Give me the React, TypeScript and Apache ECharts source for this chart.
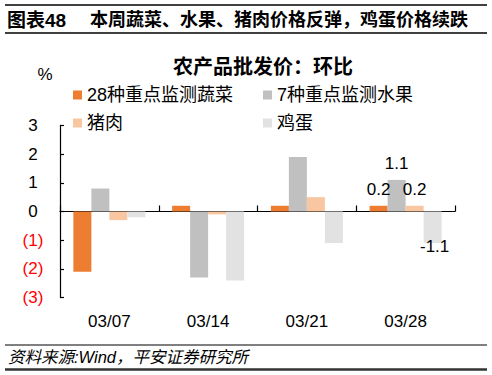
import React, { useEffect, useRef } from "react";
import * as echarts from "echarts";

const categories = ["03/07", "03/14", "03/21", "03/28"];
const seriesNames = ["28种重点监测蔬菜", "7种重点监测水果", "猪肉", "鸡蛋"];
const vegetables = [-2.1, 0.2, 0.2, 0.2];
const fruits = [0.8, -2.3, 1.9, 1.1];
const pork = [-0.3, -0.1, 0.5, 0.2];
const eggs = [-0.2, -2.4, -1.1, -1.1];
const colors = ["#ED7D31", "#C0C0C0", "#F8C6A0", "#E2E2E2"];
const yMin = -3;
const yMax = 3;
const labeledIndex = 3;

const headerLeft = "图表48";
const headerRight = "本周蔬菜、水果、猪肉价格反弹，鸡蛋价格续跌";
const chartTitle = "农产品批发价：环比";
const unitText = "%";
const sourceText = "资料来源:Wind，平安证券研究所";

const FONT = "'Liberation Sans', Arial, 'Noto Sans CJK SC', sans-serif";

function buildData(values: number[]) {
  return values.map((v, i) => {
    if (i !== labeledIndex) return v;
    const neg = v < 0;
    return {
      value: v,
      label: {
        show: true,
        position: neg ? "bottom" : "top",
        distance: neg ? 0 : 8,
        offset: neg ? [2, -5] : [0, 0],
        fontSize: 17,
        fontFamily: FONT,
        color: "#000",
        formatter: (p: any) => Number(p.value).toFixed(1),
      },
    };
  });
}

export default function App() {
  const ref = useRef<HTMLDivElement>(null);
  useEffect(() => {
    if (!ref.current) return;
    const chart = echarts.init(ref.current, null, { renderer: "svg" });
    const allValues = [vegetables, fruits, pork, eggs];
    const option: any = {
      animation: false,
      backgroundColor: "#fff",
      textStyle: { fontFamily: FONT },
      grid: { left: 60, right: 37, top: 125.4, bottom: 77.4, containLabel: false },
      legend: [
        {
          orient: "vertical",
          left: 73,
          top: 86,
          padding: 0,
          itemWidth: 9,
          itemHeight: 9,
          itemGap: 10,
          icon: "rect",
          data: [seriesNames[0], seriesNames[2]],
          textStyle: { fontSize: 18, color: "#000", fontFamily: FONT },
        },
        {
          orient: "vertical",
          left: 263,
          top: 86,
          padding: 0,
          itemWidth: 9,
          itemHeight: 9,
          itemGap: 10,
          icon: "rect",
          data: [seriesNames[1], seriesNames[3]],
          textStyle: { fontSize: 18, color: "#000", fontFamily: FONT },
        },
      ],
      xAxis: [
        {
          type: "category",
          data: categories,
          position: "bottom",
          axisLine: { show: true, onZero: true, lineStyle: { color: "#000", width: 1.2 } },
          axisTick: { show: true, inside: true, length: 6, interval: 0, lineStyle: { color: "#000", width: 1.2 } },
          axisLabel: { show: false },
          splitLine: { show: false },
        },
        {
          type: "category",
          data: categories,
          position: "bottom",
          axisLine: { show: false, onZero: false },
          axisTick: { show: false },
          axisLabel: { show: true, fontSize: 17, color: "#000", margin: 15, fontFamily: FONT },
          splitLine: { show: false },
        },
      ],
      yAxis: {
        type: "value",
        min: yMin,
        max: yMax,
        interval: 1,
        axisLine: { show: true, onZero: false, lineStyle: { color: "#000", width: 1.2 } },
        axisTick: { show: true, inside: true, length: 4, lineStyle: { color: "#000", width: 1.2 } },
        splitLine: { show: false },
        axisLabel: {
          fontSize: 17,
          fontFamily: FONT,
          align: "center",
          margin: 27,
          formatter: (v: number) => (v < 0 ? `(${-v})` : `${v}`),
          color: (v: any) => (Number(v) < 0 ? "#FF0000" : "#000"),
        },
      },
      series: allValues.map((vals, i) => ({
        name: seriesNames[i],
        type: "bar",
        xAxisIndex: 0,
        barWidth: 18,
        barGap: "0%",
        itemStyle: { color: colors[i] },
        data: buildData(vals),
      })),
      graphic: [
        { type: "line", shape: { x1: 5, y1: 5, x2: 487, y2: 5 }, style: { stroke: "#000", lineWidth: 1.5 } },
        { type: "line", shape: { x1: 5, y1: 33, x2: 487, y2: 33 }, style: { stroke: "#000", lineWidth: 1.3 } },
        {
          type: "text",
          x: 7,
          y: 20,
          style: { text: headerLeft, align: "left", verticalAlign: "middle", fontSize: 19, fontWeight: "bold", fontFamily: FONT, fill: "#000" },
        },
        {
          type: "text",
          x: 90,
          y: 20,
          style: { text: headerRight, align: "left", verticalAlign: "middle", fontSize: 18, fontWeight: "bold", fontFamily: FONT, fill: "#000" },
        },
        {
          type: "text",
          x: 263,
          y: 67,
          style: { text: chartTitle, align: "center", verticalAlign: "middle", fontSize: 20, fontWeight: "bold", fontFamily: FONT, fill: "#000" },
        },
        {
          type: "text",
          x: 45,
          y: 74,
          style: { text: unitText, align: "center", verticalAlign: "middle", fontSize: 17, fontFamily: FONT, fill: "#000" },
        },
        { type: "line", shape: { x1: 5, y1: 345, x2: 487, y2: 345 }, style: { stroke: "#000", lineWidth: 1 } },
        {
          type: "text",
          x: 8,
          y: 357,
          style: { text: sourceText, align: "left", verticalAlign: "middle", fontSize: 16.5, fontStyle: "italic", fontFamily: FONT, fill: "#000" },
        },
        { type: "line", shape: { x1: 5, y1: 369.5, x2: 487, y2: 369.5 }, style: { stroke: "#333", lineWidth: 2.5 } },
      ],
    };
    chart.setOption(option);
    return () => chart.dispose();
  }, []);
  return (
    <div
      ref={ref}
      style={{ position: "absolute", left: 0, top: 0, width: 492, height: 375, background: "#fff" }}
    />
  );
}
